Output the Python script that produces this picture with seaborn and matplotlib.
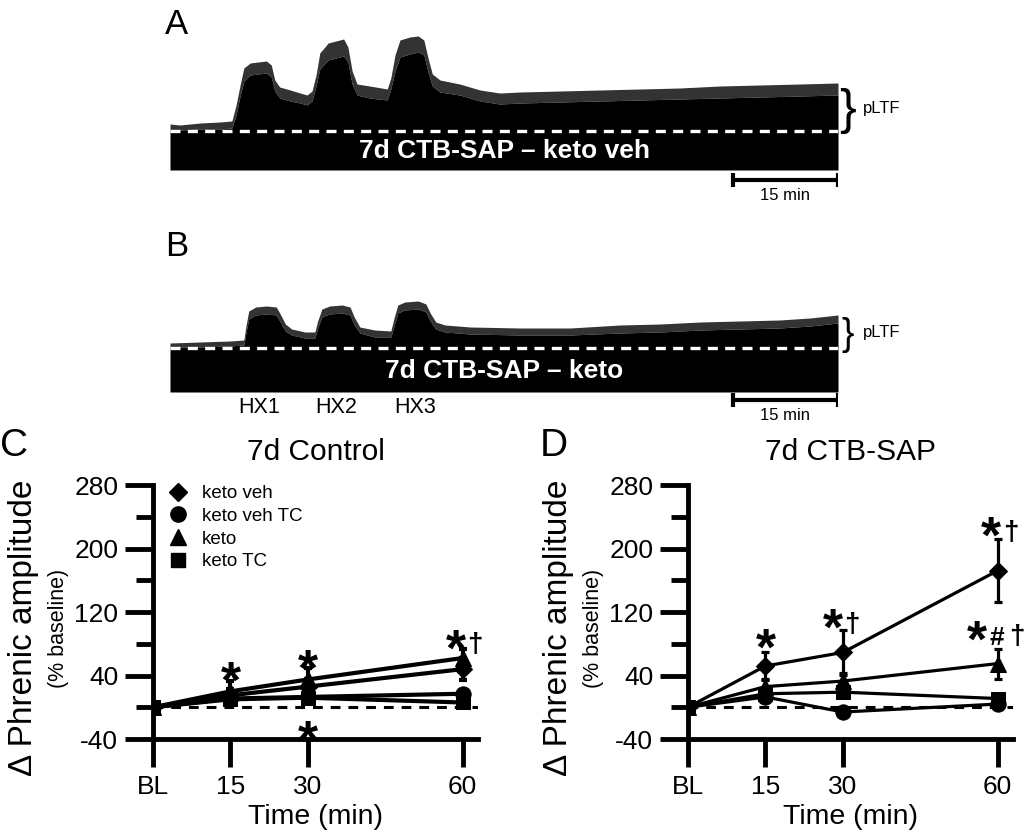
import numpy as np
import pandas as pd
import matplotlib
matplotlib.use("Agg")
import matplotlib.pyplot as plt
import seaborn as sns
from matplotlib.lines import Line2D

# ---- raw trace envelopes (minutes, amplitude above baseline, a.u.) ----
# body = dense top of the integrated burst train, peak = tips of the spikes
trace_a_time = [0.0, 1.4, 4.3, 7.1, 8.8, 9.4, 10.0, 10.5, 11.4, 12.5, 13.7, 14.4, 14.9,
                15.6, 17.1, 18.5, 19.5, 20.2, 20.8, 21.3, 22.5, 23.6, 24.7, 25.3, 25.9,
                26.6, 28.4, 30.9, 31.4, 32.0, 32.7, 34.1, 35.3, 36.1, 36.7, 37.3, 38.4,
                41.2, 44.1, 46.9, 49.8, 55.5, 61.1, 66.8, 72.5, 78.2, 83.9, 89.6, 95.0]
trace_a_body = [1, 1, 2, 2, 3, 16, 36, 50, 56, 57, 58, 54, 40,
                33, 30, 28, 26, 30, 46, 62, 71, 73, 75, 69, 47,
                36, 33, 31, 42, 60, 74, 77, 79, 76, 59, 45, 39,
                36, 30, 27, 28, 29, 30, 31, 32, 33, 34, 35, 36]
trace_a_peak = [7, 6, 8, 9, 10, 26, 47, 63, 68, 69, 70, 66, 51,
                44, 41, 38, 36, 40, 57, 78, 88, 90, 92, 84, 60,
                47, 45, 42, 53, 76, 91, 94, 95, 91, 73, 57, 51,
                47, 41, 38, 39, 40, 41, 42, 43, 45, 46, 47, 48]

trace_b_time = [0.0, 4.3, 8.5, 10.5, 10.8, 11.2, 12.2, 13.7, 15.1, 15.6, 16.4, 17.3,
                19.2, 20.6, 21.0, 21.6, 22.7, 24.5, 25.6, 26.2, 27.0, 29.1, 31.4, 31.9,
                32.4, 33.4, 35.3, 36.4, 37.0, 37.8, 39.1, 42.7, 49.8, 56.9, 64.0, 69.7,
                75.4, 81.0, 86.7, 91.0, 95.0]
trace_b_body = [1, 1, 2, 3, 15, 29, 33, 34, 33, 27, 17, 13,
                10, 10, 20, 31, 34, 35, 33, 23, 15, 11, 11, 23,
                35, 38, 39, 36, 27, 19, 16, 14, 13, 13, 15, 16,
                18, 19, 20, 22, 25]
trace_b_peak = [5, 6, 7, 8, 22, 37, 41, 42, 41, 35, 24, 19,
                16, 16, 27, 39, 42, 43, 41, 31, 21, 18, 17, 31,
                43, 46, 47, 44, 35, 26, 23, 21, 20, 20, 23, 24,
                26, 27, 28, 30, 33]

hx_labels = ["HX1", "HX2", "HX3"]
hx_time = [12.7, 23.6, 34.8]

# ---- summary data (% baseline) ----
time_labels = ["BL", "15", "30", "60"]
time_min = [0, 15, 30, 60]
groups = ["keto veh", "keto veh TC", "keto", "keto TC"]

ctrl_mean = {"keto veh": [0, 15, 26, 48], "keto veh TC": [0, 11, 13, 17],
             "keto": [0, 20, 35, 62], "keto TC": [0, 10, 12, 6]}
ctrl_sem = {"keto veh": [0, 8, 10, 14], "keto veh TC": [0, 4, 5, 4],
            "keto": [0, 13, 14, 11], "keto TC": [0, 5, 4, 3]}
sap_mean = {"keto veh": [0, 52, 69, 172], "keto veh TC": [0, 13, -6, 4],
            "keto": [0, 26, 33, 55], "keto TC": [0, 17, 19, 11]}
sap_sem = {"keto veh": [0, 17, 28, 40], "keto veh TC": [0, 4, 5, 3],
           "keto": [0, 8, 10, 19], "keto TC": [0, 5, 6, 3]}

# significance marks: (time, value, text)
ctrl_marks = [(15, 50, "*"), (30, 65, "*"), (30, -25, "*"), (58.7, 90, "*†"), (63.7, 47, "*†")]
sap_marks = [(15, 91, "*"), (28, 116, "*†"), (58.8, 232, "*†"), (56, 101, "*#†")]

markers = {"keto veh": "D", "keto veh TC": "o", "keto": "^", "keto TC": "s"}
msizes = {"keto veh": 9.5, "keto veh TC": 11, "keto": 11, "keto TC": 9.5}

sns.set_style("ticks", rc={"axes.edgecolor": "black", "xtick.color": "black",
                           "ytick.color": "black", "text.color": "black",
                           "axes.labelcolor": "black"})
plt.rcParams["font.family"] = ["Liberation Sans", "DejaVu Sans"]
plt.rcParams["axes.unicode_minus"] = False

W, H = 1035, 838
fig = plt.figure(figsize=(W / 100, H / 100), dpi=100)


def box(l, t, r, b):
    return [l / W, 1 - b / H, (r - l) / W, (b - t) / H]


def draw_trace(ax, tt, body, peak, floor, label, bar_y, brace_y, brace_fs, pltf_y):
    ax.fill_between(tt, body, peak, color="0.2", lw=0)
    ax.fill_between(tt, floor, body, color="black", lw=0)
    ax.plot([0, 95], [0, 0], color="white", lw=2.4, dashes=(3, 2.2))
    ax.text(47.5, floor / 2 - 1, label, color="white", fontsize=19, fontweight="bold",
            ha="center", va="center")
    ax.plot([80, 95], [bar_y, bar_y], color="black", lw=3, solid_capstyle="butt")
    for xe in (80, 95):
        ax.plot([xe, xe], [bar_y + 7, bar_y - 7], color="black", lw=3, solid_capstyle="butt")
    ax.text(87.5, bar_y - 15, "15 min", fontsize=12, ha="center", va="center")
    ax.text(96.4, brace_y, "}", fontsize=brace_fs, ha="center", va="center", clip_on=False)
    ax.text(98.5, pltf_y, "pLTF", fontsize=12, ha="left", va="center", clip_on=False)
    ax.set_xlim(0, 95)
    ax.axis("off")


axA = fig.add_axes(box(170, 20, 838, 205))
axA.set_ylim(-74, 111)
draw_trace(axA, trace_a_time, trace_a_body, trace_a_peak, -39, "7d CTB-SAP – keto veh",
           -49, 20, 36, 23)

axB = fig.add_axes(box(170, 240, 838, 425))
axB.set_ylim(-77, 108)
draw_trace(axB, trace_b_time, trace_b_body, trace_b_peak, -44, "7d CTB-SAP – keto",
           -52, 13, 27, 16)
for lab, tx in zip(hx_labels, hx_time):
    axB.text(tx, -59, lab, fontsize=15.5, ha="center", va="center")

fig.text(165 / W, 1 - 8 / H, "A", fontsize=25, ha="left", va="top")
fig.text(165 / W, 1 - 230 / H, "B", fontsize=25, ha="left", va="top")
fig.text(0 / W, 1 - 428 / H, "C", fontsize=28, ha="left", va="top")
fig.text(540 / W, 1 - 428 / H, "D", fontsize=28, ha="left", va="top")


def long_df(means):
    rows = []
    for g in groups:
        for t, v in zip(time_min, means[g]):
            rows.append({"time": t, "value": v, "group": g})
    return pd.DataFrame(rows)


def put_marks(ax, marks):
    for x, y, s in marks:
        ax.annotate("*", (x, y), xytext=(0, -0.58 * 37), textcoords="offset points",
                    ha="center", va="baseline", fontsize=37, fontweight="bold")
        dx = 14
        for ch in s[1:]:
            fs = 20 if ch == "†" else 19
            yoff = -0.30 * fs - 6 if ch == "†" else -0.36 * fs - 6
            ax.annotate(ch, (x, y), xytext=(dx, yoff), textcoords="offset points",
                        ha="center", va="baseline", fontsize=fs, fontweight="bold")
            dx += 15


def draw_summary(ax, means, sems, title, marks, lw):
    ax.plot([0, 63], [0, 0], color="black", lw=2.2, dashes=(3.2, 2.6), zorder=1)
    df = long_df(means)
    sns.lineplot(data=df, x="time", y="value", hue="group", style="group",
                 markers=markers, dashes=False, palette={g: "black" for g in groups},
                 linewidth=lw, legend=False, ax=ax, zorder=3)
    for line, g in zip(ax.lines[1:], groups):
        line.set_markersize(msizes[g])
        line.set_markeredgecolor("black")
    for g in groups:
        ax.errorbar(time_min[1:], means[g][1:], yerr=sems[g][1:], fmt="none",
                    ecolor="black", elinewidth=lw, capsize=3, capthick=lw, zorder=2)
    ax.set_xlim(0, 63)
    ax.set_ylim(-40, 280)
    ax.set_xticks(time_min)
    ax.set_xticklabels(time_labels)
    ax.set_yticks([-40, 40, 120, 200, 280])
    ax.set_yticks([0, 80, 160, 240], minor=True)
    ax.tick_params(axis="both", which="major", direction="out", length=20, width=3.5,
                   labelsize=19, color="black", labelcolor="black", bottom=True, left=True)
    ax.tick_params(axis="x", pad=6)
    ax.tick_params(axis="y", pad=5)
    ax.tick_params(axis="y", which="minor", direction="out", length=12, width=3.5,
                   left=True)
    sns.despine(ax=ax)
    for sp in ("left", "bottom"):
        ax.spines[sp].set_linewidth(3.5)
        ax.spines[sp].set_color("black")
        ax.spines[sp].set_capstyle("projecting")
    ax.set_xlabel("")
    ax.set_ylabel("")
    ax.text(0.5, 1.13, title, transform=ax.transAxes, fontsize=21.5, ha="center",
            va="center")
    ax.text(0.5, -0.307, "Time (min)", transform=ax.transAxes, fontsize=20.5,
            ha="center", va="center")
    ax.text(-0.397, 0.437, "Δ Phrenic amplitude", transform=ax.transAxes, fontsize=24,
            rotation=90, ha="center", va="center")
    ax.text(-0.292, 0.437, "(% baseline)", transform=ax.transAxes, fontsize=15.5,
            rotation=90, ha="center", va="center")
    put_marks(ax, marks)


axC = fig.add_axes(box(153, 485, 478, 739))
draw_summary(axC, ctrl_mean, ctrl_sem, "7d Control", ctrl_marks, 3)
axD = fig.add_axes(box(688, 485, 1013, 739))
draw_summary(axD, sap_mean, sap_sem, "7d CTB-SAP", sap_marks, 2.3)

handles = [Line2D([], [], marker=markers[g], color="black", linestyle="none",
                  markersize=msizes[g]) for g in groups]
axC.legend(handles, groups, loc="upper left", bbox_to_anchor=(0.049, 1.0), frameon=False,
           fontsize=13.5, handlelength=1.0, handletextpad=0.75, labelspacing=0.3,
           borderpad=0, borderaxespad=0)

fig.savefig("out.png", dpi=100)
